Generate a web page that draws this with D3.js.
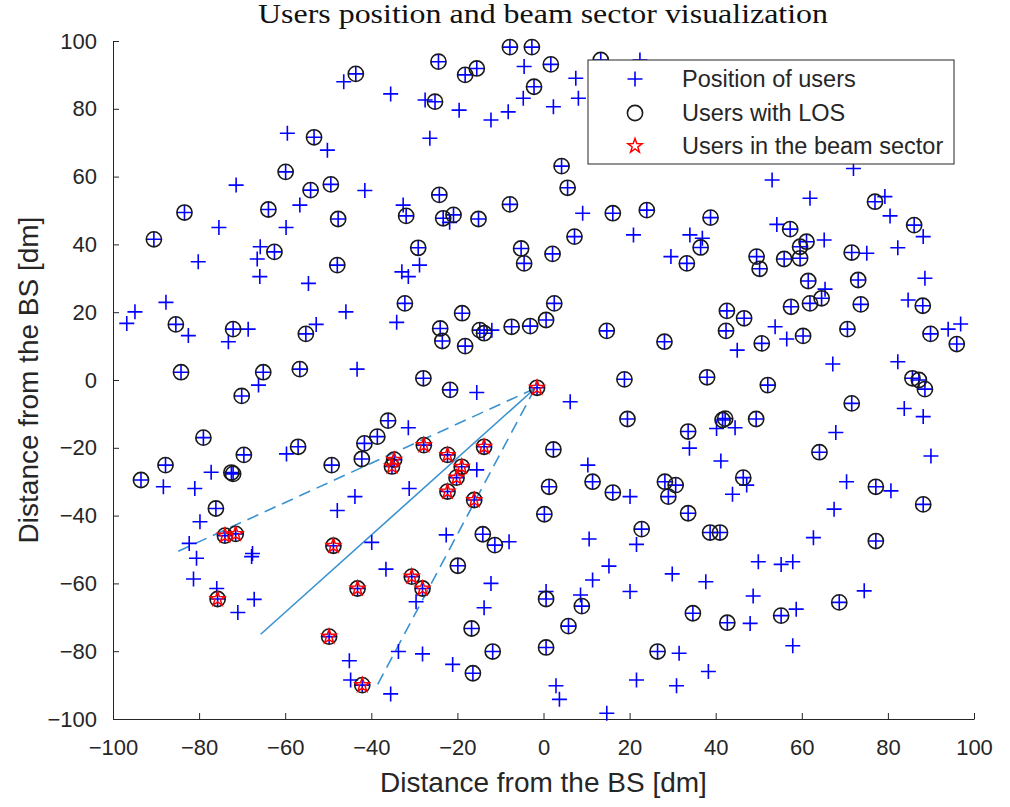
<!DOCTYPE html>
<html>
<head>
<meta charset="utf-8">
<script src="https://cdn.jsdelivr.net/npm/d3@7"></script>
<style>
  html, body { margin: 0; padding: 0; background: #fff; }
  svg { display: block; font-family: "Liberation Sans", Arial, Helvetica, sans-serif; }
</style>
</head>
<body>
<svg id="chart" width="1010" height="807"></svg>
<script>
// Users without line of sight (position only)
const nlosX = [22.4,-46.4,-35.5,-4.5,7.5,8.1,2.3,-4.7,-8.2,-12.2,-19.6,-27.5,-26.4,-59.5,-50.2,-71.4,-41.5,-32.6,-56.6,-75.4,-59.8,-80.2,-65.8,-66.5,-21.8,9.1,20.9,29.6,34.0,-28.8,53.1,72.0,61.9,79.3,80.5,88.2,82.3,75.1,65.2,54.2,36.9,
  65.4,88.6,84.7,53.8,56.5,45.0,94.0,96.9,67.2,82.3,83.8,88.2,40.2,44.5,33.9,67.9,90.0,41.2,47.2,43.9,70.4,80.7,
  67.5,62.7,49.9,55.2,57.9,37.7,48.7,74.5,48.0,58.7,57.9,38.3,
  -8.0,-22.6,21.6,20.1,10.6,15.2,11.4,8.6,0.6,-12.2,-13.8,-21.1,-28.1,-29.6,2.9,3.7,14.7,21.6,20.1,29.9,31.5,30.9,
  -79.8,-43.8,-47.9,-82.3,-80.6,-67.6,-67.8,-81.3,-75.9,-67.2,-71.0,-39.9,-36.6,-45.1,-44.8,-35.5,-33.7,
  -65.9,-54.6,-32.9,-31.4,-34.1,-45.9,-52.8,-43.3,-66.2,-68.6,-73.2,-82.5,-87.7,-94.9,-96.8,-88.3,-81.0,-77.2,-59.7,-31.4,-31.2,
  -12.0,-15.5,6.2,10.3,-15.5];
const nlosY = [94.4,88.0,84.4,92.5,89.0,83.1,80.6,83.1,79.1,76.7,79.6,82.6,71.3,72.8,67.8,57.5,55.9,51.6,51.6,45.0,45.0,34.9,39.3,35.7,46.5,49.2,42.8,36.4,42.8,33.9,59.0,62.4,53.6,54.1,48.4,42.3,39.0,37.4,41.3,45.9,41.8,
  26.8,30.0,23.6,15.7,12.1,8.8,15.0,16.5,4.7,5.4,-8.4,-10.8,-14.3,-14.1,-20.1,-15.5,-22.4,-23.9,-31.0,-33.7,-30.0,-32.7,
  -38.1,-46.5,-53.6,-54.4,-53.6,-59.5,-63.7,-62.2,-71.8,-67.6,-78.4,-86.0,
  -47.7,-45.7,-48.5,-34.4,-46.9,-54.9,-59.0,-63.4,-62.4,-60.0,-67.2,-83.9,-80.8,-65.4,-90.2,-94.2,-98.3,-88.5,-62.4,-57.2,-80.6,-90.2,
  -41.8,-34.4,-38.5,-48.2,-52.6,-51.2,-52.1,-58.7,-61.5,-64.7,-68.6,-47.9,-55.8,-82.8,-88.5,-92.6,-80.1,
  30.5,28.5,31.9,30.5,17.0,20.1,16.4,3.2,-1.5,15.0,11.3,13.1,22.9,20.1,16.7,-31.5,-32.0,-27.2,-21.8,-14.1,-32.0,
  14.7,-3.7,-6.4,-25.1,-26.5];

// Users with line of sight, outside the beam sector
const losX = [-7.8,-2.7,1.7,13.3,-24.4,-18.2,-15.5,-43.6,-2.2,-25.2,-53.3,-59.9,-54.1,-49.4,-31.9,-63.9,-47.7,-83.4,-90.5,-62.5,-47.9,-29.1,-24.2,-23.3,-20.9,-15.1,-7.8,4.2,5.6,16.1,24.0,7.2,-5.2,-4.5,2.1,33.3,36.5,
  77.0,86.1,71.6,61.1,59.6,57.3,59.6,55.9,49.5,50.2,38.8,61.5,73.1,88.1,64.6,61.9,57.5,73.7,42.6,46.6,42.4,60.3,50.7,70.6,89.9,96.0,
  38.0,52.1,85.7,87.2,88.6,71.6,41.6,42.2,49.4,33.6,64.1,46.4,77.2,88.2,38.7,41.0,77.2,68.7,34.7,42.7,55.2,
  0.2,-14.1,-11.3,-19.9,22.8,33.6,29.0,16.1,8.9,0.6,5.8,0.6,-16.7,-11.8,-16.4,26.5,
  -76.1,-32.2,-55.2,-56.6,-65.1,-70.1,-72.1,-85.4,-84.2,-79.0,-93.5,-87.8,-72.5,-72.1,-69.6,-57.0,-49.2,-42.2,-41.6,-38.6,-36.1,
  -18.9,-24.0,-23.5,-18.2,-14.8,-13.8,-7.4,-3.1,0.6,2.5,14.7,28.1,18.8,-27.9,-21.7,19.5,2.3,11.4,1.3,28.2,30.7];
const losY = [98.2,98.2,93.1,94.4,93.9,90.0,91.9,90.3,86.5,82.1,71.6,61.4,56.0,57.7,48.4,50.3,47.5,49.4,41.5,37.8,33.9,39.0,54.6,47.7,48.7,47.5,51.8,63.1,56.7,49.2,50.1,42.3,38.8,34.4,37.2,34.4,39.1,
  52.6,45.7,37.6,40.8,39.3,44.5,35.9,35.7,36.4,32.8,47.9,29.2,29.5,21.9,24.1,22.6,21.6,22.3,20.4,18.2,14.5,13.0,10.8,15.0,13.6,10.6,
  0.8,-1.5,0.5,0.0,-2.7,-6.9,-11.8,-11.4,-11.5,-15.2,-21.3,-28.8,-31.5,-36.7,-45.0,-45.0,-47.5,-65.6,-68.8,-71.6,-69.5,
  -39.6,-45.5,-48.7,-54.8,-44.0,-39.3,-34.4,-33.2,-66.7,-64.6,-72.6,-78.9,-73.3,-80.1,-86.5,-80.1,
  -37.9,22.6,13.6,3.2,2.3,-4.7,15.0,16.4,2.3,-17.0,-29.5,-25.1,-27.3,-27.7,-22.1,-19.7,-25.1,-23.3,-18.7,-16.7,-12.0,
  19.7,15.2,11.5,10.0,14.7,13.8,15.7,15.9,17.7,22.6,14.5,11.3,0.2,0.5,-2.9,-11.5,-20.5,-30.0,-31.5,-30.0,-31.0];

// Users inside the beam sector (the first one is the base station itself)
const beamX = [-1.5,-27.8,-22.3,-13.8,-19.0,-20.2,-22.3,-16.1,-34.7,-35.2,-28.1,-30.6,-74.0,-71.5,-75.7,-48.8,-43.2,-49.8,-42.1];
const beamY = [-2.3,-19.2,-22.1,-19.7,-25.6,-28.8,-32.9,-35.4,-23.5,-25.5,-61.5,-58.0,-45.9,-45.4,-64.6,-48.9,-61.5,-75.7,-90.0];

// Beam geometry: origin, boresight direction, half-width and reach
const bsOrigin = [-2, -2.5];
const beamCenterDeg = 228.7;
const beamHalfDeg = 18.6;
const beamReach = 96.5;

const axisTicks = [-100, -80, -60, -40, -20, 0, 20, 40, 60, 80, 100];
const legendLabels = ["Position of users", "Users with LOS", "Users in the beam sector"];

const svg = d3.select("#chart");
const x = d3.scaleLinear().domain([-100, 100]).range([113, 974]);
const y = d3.scaleLinear().domain([-100, 100]).range([719, 41]);
const axisColor = "#262626";
const sans = '"Liberation Sans", Arial, sans-serif';

const zip = (xs, ys) => xs.map((v, i) => [v, ys[i]]);
const nlos = zip(nlosX, nlosY);
const los = zip(losX, losY);
const beam = zip(beamX, beamY);
const allUsers = nlos.concat(los, beam);
const withLos = los.concat(beam);

// Axes (box off, ticks pointing inward)
const xAxis = svg.append("g").attr("transform", `translate(0,${y(-100)})`)
  .call(d3.axisBottom(x).tickValues(axisTicks).tickSize(-6).tickSizeOuter(0).tickPadding(20));
const yAxis = svg.append("g").attr("transform", `translate(${x(-100)},0)`)
  .call(d3.axisLeft(y).tickValues(axisTicks).tickSize(-6).tickSizeOuter(0).tickPadding(16));
[xAxis, yAxis].forEach(g => {
  g.selectAll("path,line").attr("stroke", axisColor).attr("stroke-width", 1);
  g.selectAll("text").attr("fill", axisColor).style("font-size", "22px").style("font-family", sans);
});
xAxis.selectAll("text").attr("dy", "0.71em");

// Axis labels and title
svg.append("text").attr("x", (x(-100) + x(100)) / 2).attr("y", 792)
  .attr("text-anchor", "middle").attr("fill", axisColor).style("font-size", "28px")
  .text("Distance from the BS [dm]");
svg.append("text").attr("transform", `translate(38,${(y(-100) + y(100)) / 2}) rotate(-90)`)
  .attr("text-anchor", "middle").attr("fill", axisColor).style("font-size", "28px")
  .text("Distance from the BS [dm]");
svg.append("text").attr("x", 543).attr("y", 23)
  .attr("text-anchor", "middle").attr("fill", "#111")
  .attr("textLength", 570).attr("lengthAdjust", "spacingAndGlyphs")
  .style("font-family", '"Liberation Serif", "DejaVu Serif", serif').style("font-size", "27px")
  .text("Users position and beam sector visualization");

// Beam sector: boresight (solid) and edges (dashed)
const beamColor = "#3a93d0";
const rad = d => d * Math.PI / 180;
const beamEdges = [
  { deg: beamCenterDeg, dash: null },
  { deg: beamCenterDeg + beamHalfDeg, dash: "12,7" },
  { deg: beamCenterDeg - beamHalfDeg, dash: "12,7" }
];
svg.append("g").selectAll("line").data(beamEdges).join("line")
  .attr("x1", x(bsOrigin[0])).attr("y1", y(bsOrigin[1]))
  .attr("x2", d => x(bsOrigin[0] + beamReach * Math.cos(rad(d.deg))))
  .attr("y2", d => y(bsOrigin[1] + beamReach * Math.sin(rad(d.deg))))
  .attr("stroke", beamColor).attr("stroke-width", 1.6)
  .attr("stroke-dasharray", d => d.dash);

// Marker shapes
const plusPath = "M-7.5,0H7.5M0,-7.5V7.5";
function starPath(R) {
  const r = R * 0.4;
  const pts = d3.range(10).map(i => {
    const a = -Math.PI / 2 + i * Math.PI / 5;
    const rr = i % 2 ? r : R;
    return [rr * Math.cos(a), rr * Math.sin(a)];
  });
  return "M" + pts.map(p => p.join(",")).join("L") + "Z";
}

svg.append("g").selectAll("path").data(allUsers).join("path")
  .attr("transform", d => `translate(${x(d[0])},${y(d[1])})`)
  .attr("d", plusPath).attr("fill", "none").attr("stroke", "#0000ff").attr("stroke-width", 1.6);

svg.append("g").selectAll("circle").data(withLos).join("circle")
  .attr("cx", d => x(d[0])).attr("cy", d => y(d[1])).attr("r", 7.6)
  .attr("fill", "none").attr("stroke", "#1a1a1a").attr("stroke-width", 1.6);

svg.append("g").selectAll("path").data(beam).join("path")
  .attr("transform", d => `translate(${x(d[0])},${y(d[1])})`)
  .attr("d", starPath(7.5)).attr("fill", "none").attr("stroke", "#ff0000").attr("stroke-width", 1.5);

// Legend
const lg = svg.append("g");
lg.append("rect").attr("x", 588).attr("y", 60).attr("width", 366).attr("height", 104)
  .attr("fill", "#fff").attr("stroke", axisColor).attr("stroke-width", 1);
const rowY = [79, 113, 146];
lg.append("path").attr("transform", `translate(635,${rowY[0]})`).attr("d", plusPath)
  .attr("stroke", "#0000ff").attr("stroke-width", 1.6).attr("fill", "none");
lg.append("circle").attr("cx", 635).attr("cy", rowY[1]).attr("r", 7.6)
  .attr("fill", "none").attr("stroke", "#1a1a1a").attr("stroke-width", 1.6);
lg.append("path").attr("transform", `translate(635,${rowY[2]})`).attr("d", starPath(7.5))
  .attr("stroke", "#ff0000").attr("stroke-width", 1.5).attr("fill", "none");
lg.selectAll("text").data(legendLabels).join("text")
  .attr("x", 682).attr("y", (d, i) => rowY[i] + 8)
  .attr("fill", axisColor).style("font-size", "23.5px").text(d => d);
</script>
</body>
</html>
